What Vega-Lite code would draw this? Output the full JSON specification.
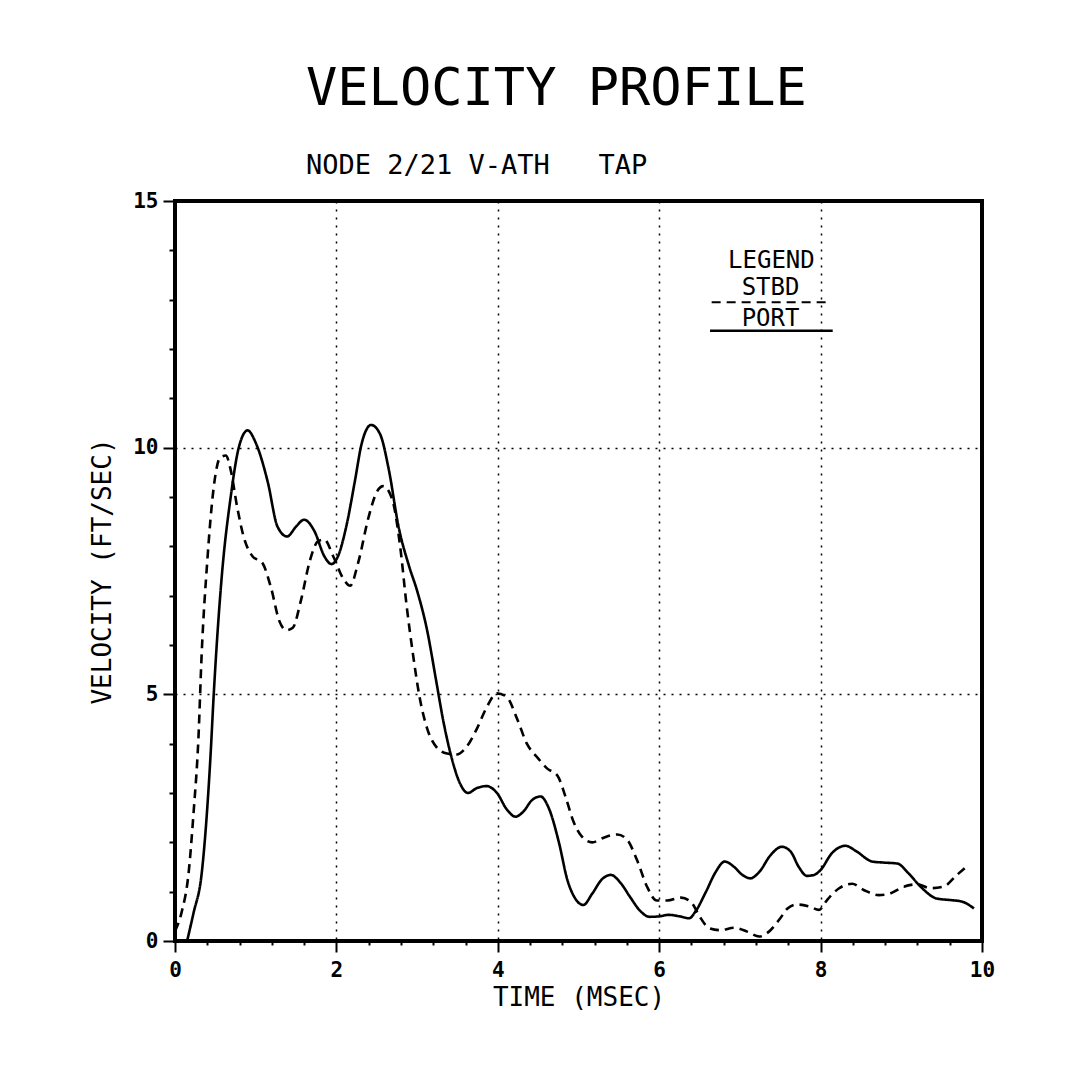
{
  "$schema": "https://vega.github.io/schema/vega-lite/v6.json",
  "width": 807,
  "height": 740,
  "autosize": {"type": "none"},
  "padding": {"left": 175, "top": 201, "right": 94, "bottom": 139},
  "background": "white",
  "config": {
    "view": {"stroke": "black", "strokeWidth": 4},
    "font": "DejaVu Sans Mono"
  },
  "title": {
    "text": "VELOCITY PROFILE",
    "subtitle": "NODE 2/21 V-ATH\u00a0\u00a0\u00a0TAP",
    "anchor": "start",
    "frame": "group",
    "dx": 131,
    "offset": 10,
    "font": "DejaVu Sans Mono",
    "fontSize": 52,
    "fontWeight": "normal",
    "color": "black",
    "subtitleFont": "DejaVu Sans Mono",
    "subtitleFontSize": 27,
    "subtitleColor": "black",
    "subtitlePadding": 37
  },
  "data": {
    "values": [
      {"t": 0.15, "v": 0, "series": "PORT"},
      {"t": 0.23, "v": 0.57, "series": "PORT"},
      {"t": 0.33, "v": 1.36, "series": "PORT"},
      {"t": 0.44, "v": 3.75, "series": "PORT"},
      {"t": 0.48, "v": 5.0, "series": "PORT"},
      {"t": 0.58, "v": 7.4, "series": "PORT"},
      {"t": 0.69, "v": 9.0, "series": "PORT"},
      {"t": 0.79, "v": 10.0, "series": "PORT"},
      {"t": 0.9, "v": 10.35, "series": "PORT"},
      {"t": 1.0, "v": 10.1, "series": "PORT"},
      {"t": 1.15, "v": 9.3, "series": "PORT"},
      {"t": 1.27, "v": 8.4, "series": "PORT"},
      {"t": 1.39, "v": 8.2, "series": "PORT"},
      {"t": 1.5, "v": 8.4, "series": "PORT"},
      {"t": 1.6, "v": 8.54, "series": "PORT"},
      {"t": 1.73, "v": 8.3, "series": "PORT"},
      {"t": 1.85, "v": 7.8, "series": "PORT"},
      {"t": 1.94, "v": 7.64, "series": "PORT"},
      {"t": 2.02, "v": 7.8, "series": "PORT"},
      {"t": 2.13, "v": 8.46, "series": "PORT"},
      {"t": 2.23, "v": 9.33, "series": "PORT"},
      {"t": 2.31, "v": 10.06, "series": "PORT"},
      {"t": 2.43, "v": 10.46, "series": "PORT"},
      {"t": 2.54, "v": 10.28, "series": "PORT"},
      {"t": 2.65, "v": 9.55, "series": "PORT"},
      {"t": 2.77, "v": 8.4, "series": "PORT"},
      {"t": 2.9, "v": 7.6, "series": "PORT"},
      {"t": 3.0, "v": 7.1, "series": "PORT"},
      {"t": 3.12, "v": 6.33, "series": "PORT"},
      {"t": 3.24, "v": 5.24, "series": "PORT"},
      {"t": 3.32, "v": 4.5, "series": "PORT"},
      {"t": 3.43, "v": 3.7, "series": "PORT"},
      {"t": 3.53, "v": 3.2, "series": "PORT"},
      {"t": 3.63, "v": 3.0, "series": "PORT"},
      {"t": 3.74, "v": 3.1, "series": "PORT"},
      {"t": 3.86, "v": 3.14, "series": "PORT"},
      {"t": 3.99, "v": 3.0, "series": "PORT"},
      {"t": 4.11, "v": 2.67, "series": "PORT"},
      {"t": 4.22, "v": 2.52, "series": "PORT"},
      {"t": 4.32, "v": 2.63, "series": "PORT"},
      {"t": 4.42, "v": 2.85, "series": "PORT"},
      {"t": 4.53, "v": 2.93, "series": "PORT"},
      {"t": 4.63, "v": 2.7, "series": "PORT"},
      {"t": 4.76, "v": 1.98, "series": "PORT"},
      {"t": 4.86, "v": 1.25, "series": "PORT"},
      {"t": 4.96, "v": 0.86, "series": "PORT"},
      {"t": 5.06, "v": 0.73, "series": "PORT"},
      {"t": 5.17, "v": 0.96, "series": "PORT"},
      {"t": 5.29, "v": 1.25, "series": "PORT"},
      {"t": 5.4, "v": 1.34, "series": "PORT"},
      {"t": 5.52, "v": 1.18, "series": "PORT"},
      {"t": 5.64, "v": 0.89, "series": "PORT"},
      {"t": 5.77, "v": 0.6, "series": "PORT"},
      {"t": 5.88, "v": 0.49, "series": "PORT"},
      {"t": 6.0, "v": 0.5, "series": "PORT"},
      {"t": 6.12, "v": 0.53, "series": "PORT"},
      {"t": 6.25, "v": 0.5, "series": "PORT"},
      {"t": 6.37, "v": 0.46, "series": "PORT"},
      {"t": 6.45, "v": 0.6, "series": "PORT"},
      {"t": 6.58, "v": 1.0, "series": "PORT"},
      {"t": 6.7, "v": 1.4, "series": "PORT"},
      {"t": 6.81, "v": 1.61, "series": "PORT"},
      {"t": 6.93, "v": 1.5, "series": "PORT"},
      {"t": 7.03, "v": 1.34, "series": "PORT"},
      {"t": 7.13, "v": 1.27, "series": "PORT"},
      {"t": 7.24, "v": 1.4, "series": "PORT"},
      {"t": 7.38, "v": 1.74, "series": "PORT"},
      {"t": 7.52, "v": 1.91, "series": "PORT"},
      {"t": 7.63, "v": 1.81, "series": "PORT"},
      {"t": 7.73, "v": 1.5, "series": "PORT"},
      {"t": 7.83, "v": 1.32, "series": "PORT"},
      {"t": 7.92, "v": 1.34, "series": "PORT"},
      {"t": 8.0, "v": 1.44, "series": "PORT"},
      {"t": 8.14, "v": 1.78, "series": "PORT"},
      {"t": 8.31, "v": 1.93, "series": "PORT"},
      {"t": 8.45, "v": 1.81, "series": "PORT"},
      {"t": 8.64, "v": 1.61, "series": "PORT"},
      {"t": 8.78, "v": 1.59, "series": "PORT"},
      {"t": 8.95, "v": 1.57, "series": "PORT"},
      {"t": 9.09, "v": 1.37, "series": "PORT"},
      {"t": 9.24, "v": 1.1, "series": "PORT"},
      {"t": 9.44, "v": 0.86, "series": "PORT"},
      {"t": 9.61, "v": 0.83, "series": "PORT"},
      {"t": 9.75, "v": 0.8, "series": "PORT"},
      {"t": 9.9, "v": 0.66, "series": "PORT"},
      {"t": 0.0, "v": 0.2, "series": "STBD"},
      {"t": 0.08, "v": 0.57, "series": "STBD"},
      {"t": 0.17, "v": 1.4, "series": "STBD"},
      {"t": 0.23, "v": 2.6, "series": "STBD"},
      {"t": 0.29, "v": 4.1, "series": "STBD"},
      {"t": 0.33, "v": 5.8, "series": "STBD"},
      {"t": 0.4, "v": 7.7, "series": "STBD"},
      {"t": 0.48, "v": 9.2, "series": "STBD"},
      {"t": 0.56, "v": 9.8, "series": "STBD"},
      {"t": 0.63, "v": 9.84, "series": "STBD"},
      {"t": 0.69, "v": 9.55, "series": "STBD"},
      {"t": 0.77, "v": 8.8, "series": "STBD"},
      {"t": 0.85, "v": 8.2, "series": "STBD"},
      {"t": 0.96, "v": 7.8, "series": "STBD"},
      {"t": 1.08, "v": 7.67, "series": "STBD"},
      {"t": 1.19, "v": 7.16, "series": "STBD"},
      {"t": 1.29, "v": 6.5, "series": "STBD"},
      {"t": 1.38, "v": 6.3, "series": "STBD"},
      {"t": 1.46, "v": 6.35, "series": "STBD"},
      {"t": 1.56, "v": 6.9, "series": "STBD"},
      {"t": 1.67, "v": 7.7, "series": "STBD"},
      {"t": 1.77, "v": 8.1, "series": "STBD"},
      {"t": 1.85, "v": 8.14, "series": "STBD"},
      {"t": 1.96, "v": 7.8, "series": "STBD"},
      {"t": 2.08, "v": 7.36, "series": "STBD"},
      {"t": 2.17, "v": 7.2, "series": "STBD"},
      {"t": 2.27, "v": 7.67, "series": "STBD"},
      {"t": 2.4, "v": 8.6, "series": "STBD"},
      {"t": 2.5, "v": 9.1, "series": "STBD"},
      {"t": 2.58, "v": 9.22, "series": "STBD"},
      {"t": 2.69, "v": 8.96, "series": "STBD"},
      {"t": 2.79, "v": 8.0, "series": "STBD"},
      {"t": 2.87, "v": 6.8, "series": "STBD"},
      {"t": 2.95, "v": 5.8, "series": "STBD"},
      {"t": 3.03, "v": 4.95, "series": "STBD"},
      {"t": 3.12, "v": 4.33, "series": "STBD"},
      {"t": 3.24, "v": 3.93, "series": "STBD"},
      {"t": 3.37, "v": 3.8, "series": "STBD"},
      {"t": 3.49, "v": 3.78, "series": "STBD"},
      {"t": 3.61, "v": 3.93, "series": "STBD"},
      {"t": 3.74, "v": 4.3, "series": "STBD"},
      {"t": 3.86, "v": 4.73, "series": "STBD"},
      {"t": 3.99, "v": 5.02, "series": "STBD"},
      {"t": 4.11, "v": 4.95, "series": "STBD"},
      {"t": 4.24, "v": 4.5, "series": "STBD"},
      {"t": 4.36, "v": 4.0, "series": "STBD"},
      {"t": 4.49, "v": 3.72, "series": "STBD"},
      {"t": 4.61, "v": 3.5, "series": "STBD"},
      {"t": 4.74, "v": 3.35, "series": "STBD"},
      {"t": 4.84, "v": 2.92, "series": "STBD"},
      {"t": 4.94, "v": 2.41, "series": "STBD"},
      {"t": 5.04, "v": 2.12, "series": "STBD"},
      {"t": 5.17, "v": 2.0, "series": "STBD"},
      {"t": 5.32, "v": 2.1, "series": "STBD"},
      {"t": 5.48, "v": 2.16, "series": "STBD"},
      {"t": 5.6, "v": 2.06, "series": "STBD"},
      {"t": 5.73, "v": 1.62, "series": "STBD"},
      {"t": 5.85, "v": 1.1, "series": "STBD"},
      {"t": 5.97, "v": 0.82, "series": "STBD"},
      {"t": 6.1, "v": 0.82, "series": "STBD"},
      {"t": 6.27, "v": 0.88, "series": "STBD"},
      {"t": 6.4, "v": 0.78, "series": "STBD"},
      {"t": 6.5, "v": 0.5, "series": "STBD"},
      {"t": 6.62, "v": 0.26, "series": "STBD"},
      {"t": 6.76, "v": 0.22, "series": "STBD"},
      {"t": 6.93, "v": 0.27, "series": "STBD"},
      {"t": 7.09, "v": 0.19, "series": "STBD"},
      {"t": 7.24, "v": 0.09, "series": "STBD"},
      {"t": 7.36, "v": 0.19, "series": "STBD"},
      {"t": 7.5, "v": 0.46, "series": "STBD"},
      {"t": 7.59, "v": 0.66, "series": "STBD"},
      {"t": 7.71, "v": 0.74, "series": "STBD"},
      {"t": 7.86, "v": 0.7, "series": "STBD"},
      {"t": 7.98, "v": 0.63, "series": "STBD"},
      {"t": 8.08, "v": 0.83, "series": "STBD"},
      {"t": 8.23, "v": 1.07, "series": "STBD"},
      {"t": 8.39, "v": 1.16, "series": "STBD"},
      {"t": 8.54, "v": 1.03, "series": "STBD"},
      {"t": 8.72, "v": 0.93, "series": "STBD"},
      {"t": 8.87, "v": 0.97, "series": "STBD"},
      {"t": 9.03, "v": 1.1, "series": "STBD"},
      {"t": 9.2, "v": 1.15, "series": "STBD"},
      {"t": 9.36, "v": 1.07, "series": "STBD"},
      {"t": 9.52, "v": 1.1, "series": "STBD"},
      {"t": 9.69, "v": 1.34, "series": "STBD"},
      {"t": 9.81, "v": 1.51, "series": "STBD"}
    ]
  },
  "layer": [
    {
      "mark": {"type": "line", "opacity": 0, "interpolate": "monotone"},
      "encoding": {
        "x": {
          "field": "t", "type": "quantitative",
          "scale": {"domain": [0, 10], "nice": false, "zero": false},
          "axis": {
            "orient": "bottom",
            "values": [0.4, 0.8, 1.2, 1.6, 2.4, 2.8, 3.2, 3.6, 4.4, 4.8, 5.2, 5.6, 6.4, 6.8, 7.2, 7.6, 8.4, 8.8, 9.2, 9.6],
            "tickSize": 4, "tickWidth": 2, "tickColor": "black",
            "domain": false, "grid": false, "labels": false, "title": null
          }
        },
        "y": {
          "field": "v", "type": "quantitative",
          "scale": {"domain": [0, 15], "nice": false},
          "axis": {
            "orient": "left",
            "values": [1, 2, 3, 4, 6, 7, 8, 9, 11, 12, 13, 14],
            "tickSize": 6, "tickWidth": 2, "tickColor": "black",
            "domain": false, "grid": false, "labels": false, "title": null
          }
        },
        "detail": {"field": "series", "type": "nominal"}
      }
    },
    {
      "mark": {"type": "line", "color": "black", "strokeWidth": 2.6, "interpolate": "monotone"},
      "encoding": {
        "x": {
          "field": "t", "type": "quantitative",
          "scale": {"domain": [0, 10], "nice": false, "zero": false},
          "axis": {
            "orient": "bottom",
            "values": [0, 2, 4, 6, 8, 10],
            "format": "d",
            "tickSize": 11, "tickWidth": 2, "tickColor": "black",
            "domain": false,
            "grid": true, "gridDash": [2, 6], "gridColor": "black", "gridWidth": 1.5, "gridOpacity": 1,
            "labelFont": "DejaVu Sans Mono", "labelFontSize": 21, "labelFontWeight": "bold", "labelColor": "black",
            "labelPadding": 7, "labelFlush": false, "labelAngle": 0,
            "title": "TIME (MSEC)",
            "titleFont": "DejaVu Sans Mono", "titleFontSize": 26, "titleFontWeight": "normal", "titleColor": "black",
            "titlePadding": 4
          }
        },
        "y": {
          "field": "v", "type": "quantitative",
          "scale": {"domain": [0, 15], "nice": false},
          "axis": {
            "orient": "left",
            "values": [0, 5, 10, 15],
            "format": "d",
            "tickSize": 12, "tickWidth": 2, "tickColor": "black",
            "domain": false,
            "grid": true, "gridDash": [2, 6], "gridColor": "black", "gridWidth": 1.5, "gridOpacity": 1,
            "labelFont": "DejaVu Sans Mono", "labelFontSize": 21, "labelFontWeight": "bold", "labelColor": "black",
            "labelPadding": 5, "labelFlush": false,
            "title": "VELOCITY (FT/SEC)",
            "titleFont": "DejaVu Sans Mono", "titleFontSize": 26, "titleFontWeight": "normal", "titleColor": "black",
            "titlePadding": 17
          }
        },
        "strokeDash": {
          "field": "series", "type": "nominal",
          "scale": {"domain": ["STBD", "PORT"], "range": [[9, 6], [1, 0]]},
          "legend": null
        }
      }
    },
    {
      "data": {"values": [{"label": "LEGEND"}]},
      "mark": {"type": "text", "font": "DejaVu Sans Mono", "fontSize": 24, "color": "black", "align": "center", "baseline": "alphabetic"},
      "encoding": {
        "x": {"datum": 7.39, "type": "quantitative", "axis": null},
        "y": {"datum": 13.64, "type": "quantitative", "axis": null},
        "text": {"field": "label", "type": "nominal"}
      }
    },
    {
      "data": {"values": [{"label": "STBD"}]},
      "mark": {"type": "text", "font": "DejaVu Sans Mono", "fontSize": 24, "color": "black", "align": "center", "baseline": "alphabetic"},
      "encoding": {
        "x": {"datum": 7.38, "type": "quantitative", "axis": null},
        "y": {"datum": 13.1, "type": "quantitative", "axis": null},
        "text": {"field": "label", "type": "nominal"}
      }
    },
    {
      "data": {"values": [{"series": "STBD"}]},
      "mark": {"type": "rule", "color": "black", "strokeWidth": 2, "strokeDash": [9, 6]},
      "encoding": {
        "x": {"datum": 6.65, "type": "quantitative", "axis": null},
        "x2": {"datum": 8.08},
        "y": {"datum": 12.95, "type": "quantitative", "axis": null}
      }
    },
    {
      "data": {"values": [{"label": "PORT"}]},
      "mark": {"type": "text", "font": "DejaVu Sans Mono", "fontSize": 24, "color": "black", "align": "center", "baseline": "alphabetic"},
      "encoding": {
        "x": {"datum": 7.38, "type": "quantitative", "axis": null},
        "y": {"datum": 12.47, "type": "quantitative", "axis": null},
        "text": {"field": "label", "type": "nominal"}
      }
    },
    {
      "data": {"values": [{"series": "PORT"}]},
      "mark": {"type": "rule", "color": "black", "strokeWidth": 2.4},
      "encoding": {
        "x": {"datum": 6.63, "type": "quantitative", "axis": null},
        "x2": {"datum": 8.15},
        "y": {"datum": 12.37, "type": "quantitative", "axis": null}
      }
    }
  ],
  "resolve": {"axis": {"x": "independent", "y": "independent"}}
}
